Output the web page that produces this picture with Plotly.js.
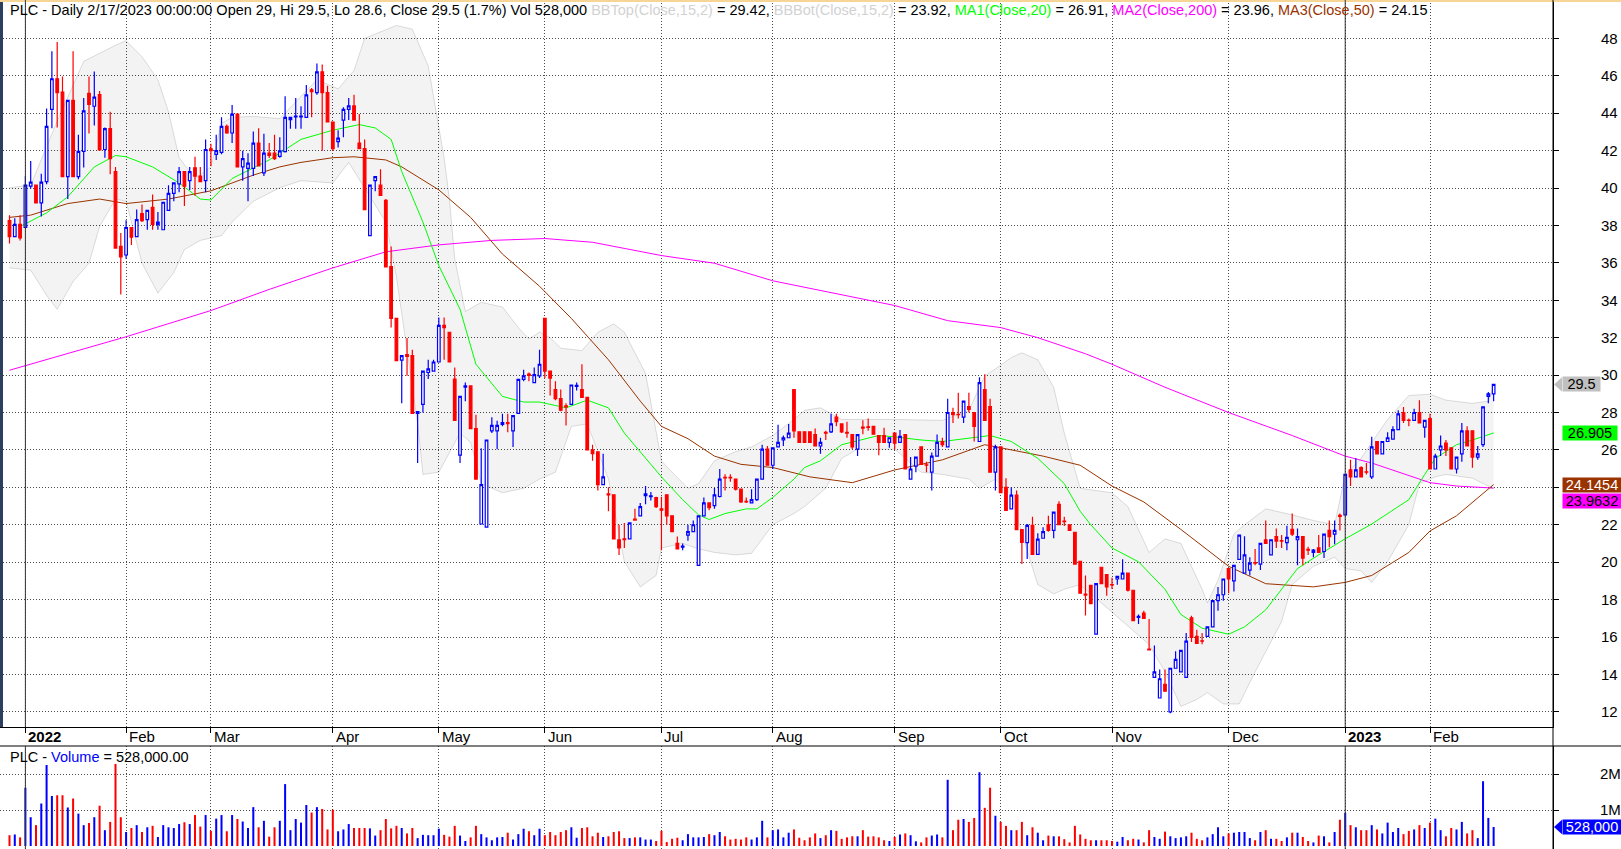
<!DOCTYPE html>
<html><head><meta charset="utf-8">
<script src="https://cdn.plot.ly/plotly-3.0.1.min.js"></script>
<style>html,body{margin:0;padding:0;background:#fff;overflow:hidden}#chart{width:1621px;height:849px}</style>
</head><body><div id="chart"></div>
<script>
const startDate = '2021-12-29', endDate = '2023-02-17';
const holidays = ['2022-01-03','2022-01-31','2022-02-01','2022-02-02','2022-02-03','2022-02-04','2022-04-11','2022-05-02','2022-05-03','2022-09-01','2022-09-02','2023-01-02','2023-01-20','2023-01-23','2023-01-24','2023-01-25','2023-01-26'];

const openP = [38.26,37.4,38.06,37.89,40.1,40.15,39.21,40.34,44.2,45.84,
45.13,40.61,44.69,40.61,41.96,45.06,44.37,45.0,42.06,43.17,
40.88,36.88,36.42,37.89,37.4,38.63,38.31,38.97,38.06,37.77,
38.8,39.71,40.22,40.88,40.39,41.08,40.64,40.39,42.1,41.8,
41.9,43.29,42.94,43.95,41.13,41.05,41.05,42.4,40.81,41.86,
41.86,41.69,41.94,43.66,43.8,43.8,43.78,45.25,45.1,46.21,
45.1,43.53,42.48,43.63,44.2,44.39,42.4,42.11,37.45,40.39,
40.15,39.34,35.8,33.03,30.8,31.1,31.04,27.95,28.44,30.14,
30.21,30.7,32.66,32.29,29.79,25.72,29.35,29.42,27.14,22.04,
21.87,27.02,27.02,27.36,27.46,27.02,27.95,29.77,30.05,29.6,
29.96,33.03,30.21,29.23,28.74,28.35,28.44,29.4,29.23,28.81,
26.0,25.9,24.15,23.65,23.6,21.2,21.25,21.25,22.3,22.48,
23.55,23.5,23.45,22.85,23.6,22.48,21.0,20.8,21.45,21.63,
19.83,22.48,23.17,23.02,23.51,24.53,24.53,24.44,23.9,23.25,
23.17,23.34,24.44,26.04,25.18,26.16,26.53,26.65,29.23,26.97,
26.97,26.97,26.82,26.21,26.94,26.97,27.75,27.39,26.94,26.82,
26.04,27.22,27.24,27.26,26.77,26.77,26.4,26.9,26.4,26.82,
24.44,25.13,26.16,25.2,24.81,25.67,26.45,26.16,28.0,27.9,
27.75,28.32,28.0,26.45,29.23,28.32,24.81,26.16,24.0,22.85,
23.58,21.74,21.04,21.97,20.42,21.28,22.0,21.7,23.09,22.2,
22.0,21.6,20.05,18.3,18.76,16.15,19.73,19.34,18.8,19.1,
19.1,19.41,18.5,17.05,17.28,15.35,13.84,12.74,13.47,12.0,
14.33,14.14,13.84,17.03,16.03,15.8,16.03,16.54,17.94,18.26,
19.66,19.0,20.15,19.41,19.58,19.98,19.9,21.2,20.39,21.37,
21.15,21.04,21.75,21.2,21.37,20.68,20.52,20.76,20.57,21.7,
21.5,22.5,22.53,24.93,24.56,25.05,24.83,24.56,26.45,25.79,
26.45,26.58,27.09,28.0,27.6,27.58,28.0,27.22,27.68,24.98,
26.0,26.36,26.11,24.98,25.79,27.02,27.02,25.62,26.28,28.86,
29.0];
const highP = [38.55,38.38,38.55,40.64,41.45,40.15,40.76,44.25,47.31,47.8,
45.96,44.69,47.31,42.85,44.81,45.96,46.23,45.18,43.24,44.07,
41.13,37.6,38.28,37.89,38.85,39.12,38.8,39.66,38.72,39.24,
40.15,40.27,41.13,40.88,41.13,41.67,41.13,42.6,42.36,42.85,
43.78,43.4,44.44,44.0,41.99,41.86,43.02,43.2,42.9,42.4,
42.85,42.72,44.91,43.8,44.81,44.37,45.5,45.35,46.65,46.6,
45.47,43.53,43.09,44.32,44.81,44.98,43.95,42.6,40.15,40.61,
41.0,39.41,36.88,33.03,31.04,31.98,31.36,28.05,30.21,30.82,
30.82,33.08,33.08,32.29,30.4,28.86,29.6,29.42,27.88,26.09,
26.53,27.75,27.56,27.93,27.93,27.83,29.77,30.28,30.14,30.4,
31.36,33.03,30.21,29.67,29.23,28.49,29.47,29.6,30.58,28.81,
26.28,25.93,25.79,24.0,23.6,22.0,22.1,22.1,22.85,23.17,
24.07,23.75,23.5,23.5,23.6,22.48,21.37,21.0,22.0,22.23,
22.48,23.46,23.17,23.97,24.98,24.7,24.7,24.44,23.9,23.46,
23.9,24.44,26.28,26.21,26.11,27.34,26.77,27.39,29.23,26.97,
26.97,26.97,27.14,26.65,27.02,27.93,27.93,27.39,27.51,26.82,
26.82,27.58,27.68,27.26,26.77,27.19,26.65,26.9,27.07,26.82,
25.62,25.62,26.16,25.37,25.86,26.82,26.65,28.74,28.25,29.06,
28.61,29.06,28.0,29.89,30.04,28.74,26.28,26.16,24.49,24.0,
23.83,21.74,22.04,22.43,21.55,21.87,22.48,22.68,23.26,22.43,
22.0,21.6,20.05,19.29,18.76,18.85,19.73,19.34,19.17,19.24,
20.15,19.41,18.5,17.2,17.4,16.96,15.55,14.26,14.26,14.33,
15.24,15.29,16.22,17.13,16.39,16.22,16.54,17.94,18.68,19.1,
19.66,19.83,21.45,21.38,20.27,20.71,21.0,22.23,21.2,21.8,
21.45,21.95,22.6,21.8,21.37,20.83,20.71,21.45,21.5,22.23,
22.23,22.6,24.69,25.47,25.55,25.13,25.3,26.7,26.45,26.45,
26.94,27.26,28.12,28.3,27.68,28.2,28.66,27.58,27.93,25.79,
26.77,26.53,26.11,25.62,27.44,27.26,27.02,26.21,28.3,29.1,
29.5];
const lowP = [37.03,37.4,37.2,37.89,39.98,39.21,38.48,40.2,43.19,43.24,
40.61,39.41,40.61,40.47,41.1,42.92,43.34,42.04,41.62,40.74,
36.79,34.31,36.22,36.96,37.4,38.18,37.77,37.77,37.77,37.77,
38.8,39.29,39.78,39.04,39.9,39.58,40.34,39.78,41.18,41.5,
41.8,42.9,42.4,41.13,40.39,39.29,40.64,41.18,40.64,41.6,
41.5,41.62,41.9,43.17,43.17,43.17,43.78,43.78,44.98,41.99,
43.5,41.99,42.16,42.72,43.63,43.63,42.11,38.85,37.45,39.83,
39.61,35.78,32.54,30.77,28.49,29.96,27.95,25.3,28.0,29.79,
30.21,30.7,30.82,30.7,27.58,25.3,28.6,27.14,24.44,22.04,
21.87,26.9,26.04,27.26,26.94,26.16,27.95,29.67,29.67,29.6,
29.84,29.84,28.91,28.66,28.07,27.31,28.44,29.18,28.81,26.0,
25.42,23.83,24.15,22.72,21.25,20.39,20.76,21.25,22.23,22.48,
23.1,23.3,22.9,20.64,22.0,21.63,20.71,20.64,21.14,21.63,
19.83,22.48,22.78,22.85,23.46,23.83,24.3,23.83,23.17,23.17,
23.17,23.27,24.44,25.18,24.98,26.16,26.21,26.65,26.65,26.4,
26.4,26.4,26.21,25.79,26.53,26.9,27.26,26.9,26.65,26.04,
25.67,26.84,27.02,26.84,25.72,26.4,26.11,26.04,26.4,24.98,
24.44,24.81,25.23,24.81,23.83,25.67,26.16,26.16,27.44,27.68,
27.44,28.0,26.45,26.45,27.58,24.81,23.83,23.71,22.77,22.85,
21.74,19.9,20.17,20.42,20.42,21.28,21.63,21.28,22.0,21.94,
21.7,19.9,18.34,17.15,17.78,16.15,18.85,18.2,18.56,18.8,
19.1,18.43,16.88,16.7,17.0,15.31,13.84,12.74,13.1,11.93,
14.33,14.14,13.84,15.73,15.66,15.61,16.03,16.54,17.4,17.94,
18.34,18.43,20.15,19.41,19.29,19.83,19.58,21.0,20.39,20.76,
20.76,20.64,21.4,19.83,19.83,20.39,20.27,20.52,20.22,20.8,
20.96,21.7,22.53,24.07,24.56,24.56,24.69,24.44,25.79,25.79,
26.45,26.58,27.09,27.44,27.26,27.58,27.44,26.65,24.98,24.98,
25.67,25.67,24.98,24.74,25.37,26.21,25.05,25.47,26.16,28.49,
28.6];
const closeP = [37.4,38.06,37.33,40.15,40.32,39.21,40.32,43.29,45.84,45.1,
40.61,44.69,40.61,41.96,44.12,44.47,44.86,42.04,43.17,41.57,
36.79,36.32,37.89,37.37,38.31,38.26,38.8,38.06,38.18,39.24,
39.71,40.27,40.88,40.1,40.88,40.64,40.34,42.06,42.0,42.0,
43.29,42.94,43.95,41.13,41.57,41.33,42.4,41.18,41.86,41.74,
41.57,41.99,43.78,43.78,43.85,43.85,44.98,45.15,46.21,45.1,
43.53,42.11,42.67,44.2,44.39,43.63,42.11,38.85,40.15,40.61,
39.61,35.78,33.03,30.77,31.04,31.0,27.95,28.05,30.21,30.33,
30.7,32.66,32.54,30.7,27.58,28.86,29.43,27.14,24.44,24.15,
26.53,27.31,27.31,27.46,27.4,27.83,29.77,29.96,29.98,30.03,
30.58,30.21,29.84,28.74,28.12,28.3,29.47,29.45,28.81,26.0,
25.8,24.15,24.56,23.6,21.25,20.76,21.2,22.1,22.25,22.97,
23.65,23.55,22.97,22.78,22.48,21.63,20.71,20.86,21.63,22.0,
22.48,23.17,22.92,23.6,24.44,24.5,24.5,23.9,23.22,23.22,
23.34,24.44,26.04,25.18,26.11,26.4,26.65,26.9,27.02,26.4,
26.4,26.4,26.21,26.4,26.9,27.39,27.51,26.97,26.9,26.16,
26.82,27.17,27.2,26.84,26.4,26.4,26.65,26.36,26.72,24.98,
24.98,25.62,25.23,25.18,25.67,26.4,26.28,28.0,27.88,27.88,
28.61,28.17,27.26,29.6,27.58,24.81,26.16,23.71,22.77,23.58,
21.74,21.06,21.97,20.42,21.23,21.63,21.7,22.68,22.0,22.16,
21.7,19.9,18.34,18.24,17.78,18.85,18.85,18.68,18.78,19.24,
19.41,18.5,16.88,17.1,17.0,15.31,14.14,13.77,13.1,14.33,
14.8,15.29,15.78,15.98,15.66,15.78,16.54,17.94,18.26,19.1,
19.1,19.83,21.45,20.39,19.95,19.95,21.0,21.0,21.2,21.13,
21.13,21.33,21.5,21.37,20.22,20.64,20.64,20.52,21.5,21.37,
21.7,22.45,24.69,24.56,24.93,24.56,24.81,26.16,25.79,26.45,
26.65,27.09,27.93,27.58,27.58,28.0,27.44,27.58,24.98,25.67,
26.21,26.0,24.98,25.62,27.02,26.21,25.62,25.79,28.3,29.0,
29.5];
// volume in thousands of shares
const volumeK = [300,320,240,1620,800,580,1180,2250,1390,1410,
1410,1070,1320,900,580,640,800,1120,440,670,
2280,800,390,500,580,390,520,560,250,580,
520,500,610,660,610,860,540,860,420,760,
860,410,860,750,680,500,1080,520,700,260,
520,700,1720,440,750,650,1140,930,1080,1030,
460,1010,410,460,610,500,500,500,490,290,
440,750,490,560,500,350,500,220,310,300,
300,480,310,260,560,290,140,240,560,330,
240,160,240,250,370,180,330,480,410,300,
480,300,390,300,390,440,520,230,500,520,
270,370,250,270,390,410,220,220,240,240,
180,180,140,420,110,200,230,160,330,240,
240,250,330,300,390,270,180,200,180,240,
180,240,700,240,440,460,240,370,460,230,
160,240,350,220,300,440,420,200,240,270,
270,440,260,270,240,160,140,250,320,350,
300,130,100,240,290,320,240,1840,440,730,
750,670,780,2050,1060,1620,840,670,560,440,
440,670,300,520,370,160,290,270,270,190,
100,560,320,200,160,160,160,160,140,120,
250,160,200,180,100,440,250,200,400,270,
220,240,270,370,200,160,240,330,520,270,
350,370,390,390,220,160,390,440,200,200,
140,240,370,370,250,140,100,290,270,100,
390,730,920,580,520,440,440,580,460,350,
650,390,500,330,420,460,580,500,650,760,
440,270,500,460,670,350,440,220,1800,780,
528];

const tickDates = ['2022-01-04','2022-02-07','2022-03-01','2022-04-01','2022-05-04','2022-06-01','2022-07-01','2022-08-01','2022-09-05','2022-10-03','2022-11-01','2022-12-01','2023-01-03','2023-02-01'];
const tickText = ['2022','Feb','Mar','Apr','May','Jun','Jul','Aug','Sep','Oct','Nov','Dec','2023','Feb'];
const yearTicks = ['2022-01-04','2023-01-03'];
const priceTicks = [12,14,16,18,20,22,24,26,28,30,32,34,36,38,40,42,44,46,48];
const priceTickText = ['12','14','16','18','20','22','','26','28','30','32','34','36','38','40','42','44','46','48'];

// indicator lines (trading-day index, value)
const ma200Idx = [0,22,38,49,61,71,81,91,101,110,123,133,144,151,167,177,187,194,203,208,218,230,242,252,257,268,273,280];
const ma200Val = [30.26,32.05,33.45,34.58,35.73,36.59,36.96,37.2,37.3,37.1,36.39,35.98,35.04,34.63,33.72,32.91,32.54,32.0,31.14,30.58,29.35,28.0,26.77,25.67,25.3,24.25,24.07,23.96];
const ma50Idx = [0,4,11,17,22,30,38,46,51,55,61,65,71,74,81,87,93,100,106,113,119,123,128,133,138,144,151,159,167,176,184,187,195,202,208,214,221,230,237,246,252,257,264,268,273,280];
const ma50Val = [38.43,38.55,39.17,39.41,39.17,39.41,39.85,40.69,41.13,41.37,41.62,41.67,41.5,41.13,39.9,38.43,36.47,34.75,33.03,30.82,28.61,27.26,26.6,25.67,25.23,25.06,24.56,24.25,24.93,25.47,26.28,26.11,25.67,25.18,24.07,23.22,21.75,19.78,18.85,18.68,18.92,19.29,20.52,21.67,22.48,24.15];
const ma20Idx = [2,7,11,16,20,22,27,32,36,38,42,49,55,61,66,69,72,74,78,81,85,88,93,97,100,105,109,113,116,120,123,127,130,132,135,139,141,144,148,150,153,157,164,167,172,176,181,185,189,194,199,202,204,208,213,218,221,225,230,233,237,240,243,247,252,257,264,267,269,273,276,280];
const ma20Val = [37.94,38.67,39.53,41.13,41.74,41.67,41.13,40.27,39.41,39.36,40.51,41.5,42.6,43.09,43.39,43.21,42.6,40.88,38.18,35.85,33.52,30.58,28.86,28.56,28.56,28.25,28.66,28.25,26.9,25.55,24.56,23.34,22.53,22.28,22.6,22.85,22.85,23.46,24.44,25.06,25.42,26.28,26.77,26.7,26.53,26.45,26.65,26.77,26.45,25.55,24.2,22.72,22.0,20.76,20.02,18.55,17.2,16.47,16.15,16.54,17.45,18.55,19.66,20.39,21.25,22.04,23.34,24.69,25.55,26.28,26.53,26.91];
const bbTopIdx = [0,4,9,14,20,22,25,28,30,32,35,38,40,42,46,51,58,62,65,67,73,76,79,81,82,83,84,86,89,93,96,98,100,102,104,108,111,114,116,120,122,123,125,128,130,133,137,140,144,148,150,153,157,160,167,176,181,184,186,189,191,194,197,199,202,208,211,215,218,221,225,226,228,231,233,237,242,246,250,252,255,257,260,264,268,271,276,279,280];
const bbTopVal = [40.02,40.15,43.58,46.77,47.63,47.88,47.02,45.79,44.07,41.62,40.51,41.13,43.46,43.78,43.83,43.71,45.79,45.3,46.28,48.0,48.69,48.49,46.53,43.34,41.62,39.41,36.22,33.4,33.89,33.64,32.54,31.93,32.3,32.0,31.44,31.31,32.29,32.74,32.29,30.09,26.9,25.42,24.81,23.95,24.2,25.42,25.91,26.16,26.77,27.63,28.12,28.25,27.63,27.63,27.63,27.58,28.12,29.96,30.33,30.94,31.19,30.82,29.35,26.9,23.95,23.71,22.97,20.52,21.25,21.0,18.55,17.82,19.04,21.51,22.0,22.85,22.53,22.23,22.0,24.69,25.55,26.4,27.63,28.91,28.98,28.66,28.49,28.61,29.42];
const bbBotIdx = [0,4,7,9,12,15,17,20,22,25,28,31,33,36,40,42,46,51,55,61,64,67,71,73,76,77,78,81,85,87,89,93,97,100,103,106,109,113,116,119,122,123,127,130,133,137,140,144,148,150,153,154,157,160,167,172,176,181,183,186,189,191,194,197,199,202,208,215,218,221,224,226,229,232,235,240,242,246,250,252,255,257,260,264,266,269,271,276,280];
const bbBotVal = [35.73,35.61,34.26,33.52,35.0,35.98,37.94,39.41,39.29,35.98,34.38,35.48,36.71,37.2,37.45,38.18,39.29,40.02,40.39,40.27,41.37,40.02,38.18,35.24,29.35,27.39,24.69,24.81,26.9,26.4,24.2,23.71,23.95,24.44,24.81,27.26,27.39,24.44,20.02,18.68,19.29,20.76,21.0,20.71,20.52,20.39,20.47,22.0,22.6,22.97,23.71,23.95,25.55,26.04,26.04,24.81,24.69,24.44,23.95,24.44,23.58,21.51,18.8,18.31,18.55,18.8,17.33,15.6,14.14,12.29,12.66,13.03,12.42,12.42,14.14,16.83,18.8,19.78,20.27,19.66,19.53,18.92,20.02,22.0,24.2,24.56,24.69,24.49,23.92];

function tradingDays(){
  const out = [];
  const d = new Date(startDate + 'T00:00:00Z');
  const end = new Date(endDate + 'T00:00:00Z');
  while (d <= end) {
    const wd = d.getUTCDay();
    const s = d.toISOString().slice(0,10);
    if (wd !== 0 && wd !== 6 && holidays.indexOf(s) < 0) out.push(s);
    d.setUTCDate(d.getUTCDate() + 1);
  }
  return out;
}
const dates = tradingDays();
[openP,highP,lowP,closeP,volumeK].forEach(a=>{ if(a.length!==dates.length) throw new Error('length mismatch '+a.length+' vs '+dates.length); });

const W = 1621, H = 849;
const FONT = "'Liberation Sans', Arial, sans-serif";
const xRight = 1553 / W;
const priceDomain = [1 - 727 / H, 1];
const volDomain = [0, 103 / H];
const GRID = '#4a4a4a', DASH = '1px,2px';
const C_UP = '#0000ff', C_DN = '#ff0000', C_MA20 = '#00ff00', C_MA200 = '#ff00ff', C_MA50 = '#993300';
const last = dates.length - 1;
const priceRange = [11.19, 50.05];
const xRange = [-1.79, 291.2];

const atIdx = idx => idx.map(i => dates[i]);

const traces = [
  {type:'scatter', mode:'lines', x:atIdx(bbTopIdx), y:bbTopVal, line:{color:'rgba(0,0,0,0.13)', width:1}, xaxis:'x', yaxis:'y', hoverinfo:'skip'},
  {type:'scatter', mode:'lines', x:atIdx(bbBotIdx), y:bbBotVal, line:{color:'rgba(0,0,0,0.13)', width:1}, fill:'tonexty', fillcolor:'rgba(0,0,0,0.047)', xaxis:'x', yaxis:'y', hoverinfo:'skip'},
  {type:'scatter', mode:'lines', x:atIdx(ma200Idx), y:ma200Val, line:{color:C_MA200, width:1}, xaxis:'x', yaxis:'y'},
  {type:'scatter', mode:'lines', x:atIdx(ma50Idx), y:ma50Val, line:{color:C_MA50, width:1}, xaxis:'x', yaxis:'y'},
  {type:'scatter', mode:'lines', x:atIdx(ma20Idx), y:ma20Val, line:{color:C_MA20, width:1}, xaxis:'x', yaxis:'y'},
  {type:'bar', x:dates, y:volumeK, xaxis:'x2', yaxis:'y2', width:0.38,
   marker:{color: closeP.map((c,i)=> c >= openP[i] ? C_UP : C_DN), line:{width:0}}},
  {type:'candlestick', x:dates, open:openP, high:highP, low:lowP, close:closeP, xaxis:'x3', yaxis:'y3',
   increasing:{line:{color:C_UP, width:1.2}, fillcolor:'#ffffff'},
   decreasing:{line:{color:C_DN, width:1.2}, fillcolor:C_DN}, whiskerwidth:0}
];

const annotations = [];
const hdr = 'PLC - Daily 2/17/2023 00:00:00 Open 29, Hi 29.5, Lo 28.6, Close 29.5 (1.7%) Vol 528,000 ' +
  '<span style="color:#d2d2d2">BBTop(Close,15,2)</span> = 29.42, ' +
  '<span style="color:#d2d2d2">BBBot(Close,15,2)</span> = 23.92, ' +
  '<span style="color:#00ff00">MA1(Close,20)</span> = 26.91, ' +
  '<span style="color:#ff00ff">MA2(Close,200)</span> = 23.96, ' +
  '<span style="color:#993300">MA3(Close,50)</span> = 24.15';
annotations.push({xref:'paper', yref:'paper', x:8/W, y:1-10.5/H, xanchor:'left', yanchor:'middle', showarrow:false,
  text:hdr, font:{family:FONT, size:14.5, color:'#000'}});
annotations.push({xref:'paper', yref:'paper', x:8/W, y:1-757/H, xanchor:'left', yanchor:'middle', showarrow:false,
  text:'PLC - <span style="color:#0000ff">Volume</span> = 528,000.00', font:{family:FONT, size:14.5, color:'#000'}});
tickDates.forEach((d,k)=>{
  const isYear = yearTicks.indexOf(d) >= 0;
  annotations.push({xref:'x', yref:'paper', x:d, y:1-736/H, xanchor:'left', yanchor:'middle', xshift:1, showarrow:false,
    text: isYear ? '<b>'+tickText[k]+'</b>' : tickText[k], font:{family:FONT, size:15, color:'#000'}});
});
function valBox(y, yref, text, bg, fg, width){
  annotations.push({xref:'paper', yref:yref, x:1562/W, y:y, xanchor:'left', yanchor:'middle', showarrow:false,
    text:text, bgcolor:bg, width:width, height:14, align:'center', valign:'middle', borderpad:0, font:{family:FONT, size:14.5, color:fg}});
}
valBox(closeP[last], 'y', String(closeP[last]), '#c0c0c0', '#000', 37);
valBox(26.88, 'y', '26.905', '#00ff00', '#000', 54);
valBox(24.13, 'y', '24.1454', C_MA50, '#fff', 58);
valBox(23.27, 'y', '23.9632', C_MA200, '#000', 58);
valBox(volumeK[last], 'y2', '528,000', '#0000ff', '#fff', 58);

const shapes = [
  {type:'rect', xref:'paper', yref:'paper', x0:0, x1:3/W, y0:priceDomain[0], y1:1, fillcolor:'#2d3f5f', line:{width:0}},
  {type:'rect', xref:'paper', yref:'paper', x0:0, x1:1, y0:1-2/H, y1:1, fillcolor:'#f7d597', line:{width:0}},
  {type:'line', xref:'paper', yref:'paper', x0:0, x1:1, y0:1-746/H, y1:1-746/H, line:{color:'#000', width:1}},
  {type:'line', xref:'paper', yref:'paper', x0:xRight, x1:xRight, y0:0, y1:1, line:{color:'#000', width:1}},
  {type:'path', xref:'paper', yref:'y', path:`M ${1554/W},${closeP[last]} L ${1562/W},${closeP[last]+0.38} L ${1562/W},${closeP[last]-0.38} Z`, fillcolor:'#c0c0c0', line:{width:0}},
  {type:'path', xref:'paper', yref:'y2', path:`M ${1554/W},${volumeK[last]} L ${1562/W},${volumeK[last]+200} L ${1562/W},${volumeK[last]-200} Z`, fillcolor:'#0000ff', line:{width:0}}
];
yearTicks.forEach(d=>{
  shapes.push({type:'line', xref:'x', yref:'y domain', x0:d, x1:d, y0:0, y1:1, line:{color:'#333', width:1}});
  shapes.push({type:'line', xref:'x2', yref:'y2 domain', x0:d, x1:d, y0:0, y1:1, line:{color:'#333', width:1}});
});

const layout = {
  width:W, height:H, margin:{l:0, r:0, t:0, b:0}, paper_bgcolor:'#fff', plot_bgcolor:'#fff',
  showlegend:false, hovermode:false, font:{family:FONT, size:15, color:'#000'},
  xaxis:{domain:[0,xRight], anchor:'y', type:'category', categoryorder:'array', categoryarray:dates, range:xRange,
    tickvals:tickDates, showticklabels:false, ticks:'outside', ticklen:5, tickcolor:'#000',
    showgrid:true, gridcolor:GRID, griddash:DASH, gridwidth:1, showline:true, linecolor:'#000', linewidth:1,
    zeroline:false, rangeslider:{visible:false}},
  xaxis2:{domain:[0,xRight], anchor:'y2', type:'category', categoryorder:'array', categoryarray:dates, range:xRange,
    tickvals:tickDates, showticklabels:false, ticks:'', showgrid:true, gridcolor:GRID, griddash:DASH, gridwidth:1,
    showline:false, zeroline:false, rangeslider:{visible:false}},
  xaxis3:{overlaying:'x', anchor:'y3', type:'category', categoryorder:'array', categoryarray:dates, range:xRange,
    visible:false, showgrid:false, rangeslider:{visible:false}},
  yaxis:{domain:priceDomain, anchor:'x', side:'right', range:priceRange, tickvals:priceTicks, ticktext:priceTickText,
    ticks:'outside', ticklen:5, tickcolor:'#000', ticklabelstandoff:39, tickfont:{family:FONT, size:15, color:'#000'},
    showgrid:true, gridcolor:GRID, griddash:DASH, gridwidth:1, showline:true, linecolor:'#000', zeroline:false},
  yaxis3:{overlaying:'y', anchor:'x3', side:'right', range:priceRange, visible:false, showgrid:false},
  yaxis2:{domain:volDomain, anchor:'x2', side:'right', range:[-83, 2778], tickvals:[1000,2000], ticktext:['1M','2M'],
    ticks:'outside', ticklen:5, tickcolor:'#000', ticklabelstandoff:38, tickfont:{family:FONT, size:15, color:'#000'},
    showgrid:true, gridcolor:GRID, griddash:DASH, gridwidth:1, showline:true, linecolor:'#000', zeroline:false},
  annotations:annotations, shapes:shapes, boxgap:0.3
};

Plotly.newPlot('chart', traces, layout, {staticPlot:true, displayModeBar:false});
</script></body></html>
